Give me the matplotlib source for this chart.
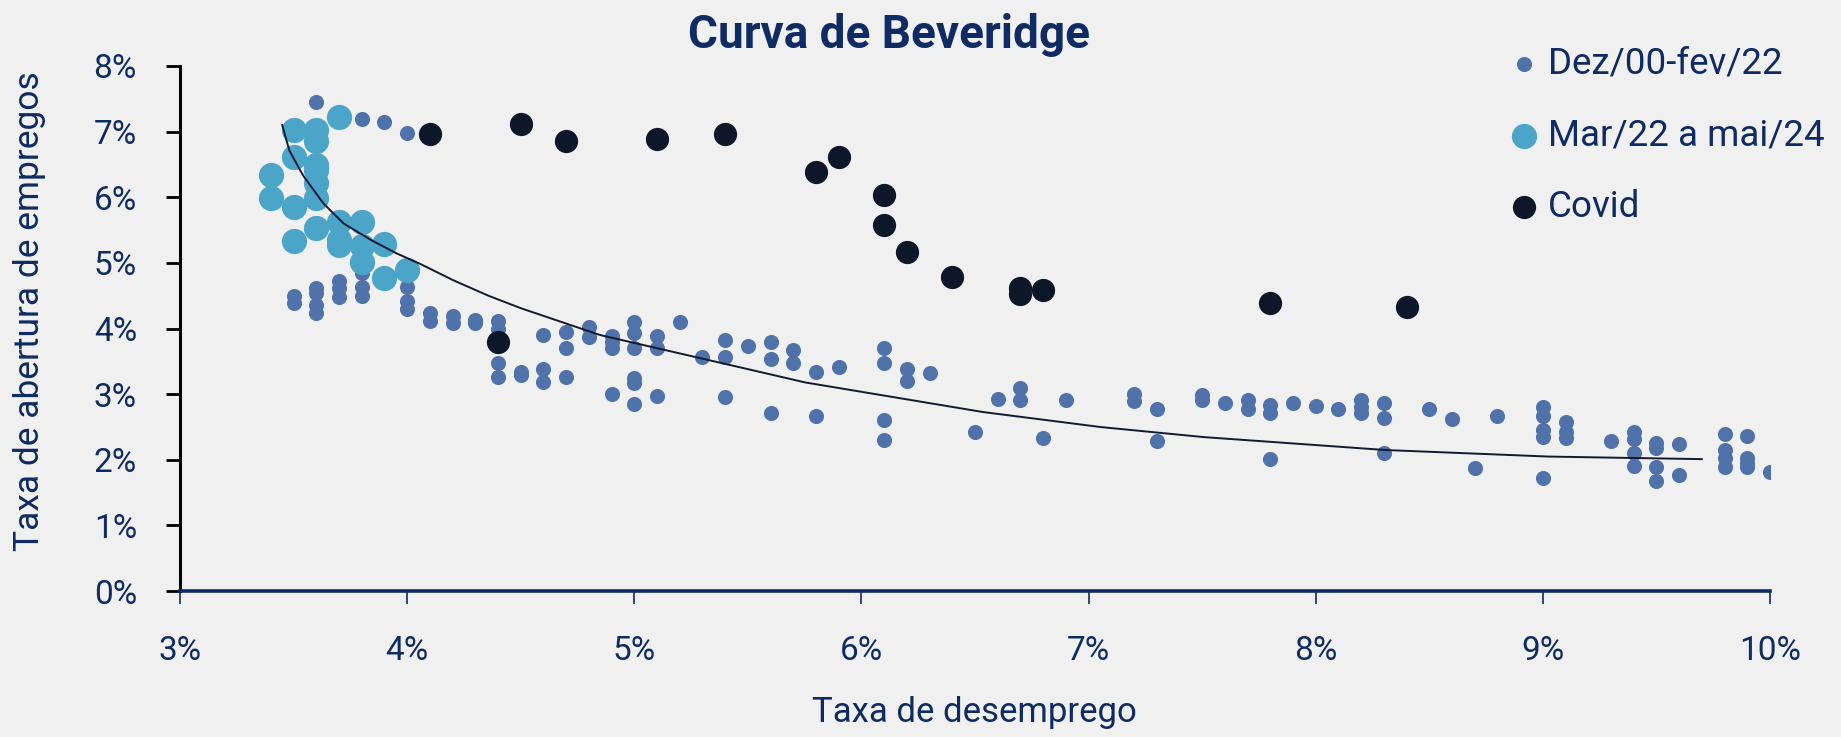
import numpy as np
import matplotlib
matplotlib.use("Agg")
import matplotlib.pyplot as plt
from matplotlib.ticker import FuncFormatter

plt.rcParams['font.family'] = ['Roboto', 'DejaVu Sans']

# ---- Data (unemployment %, job opening rate %) ----
pre_x = [3.5, 3.5,
         3.6, 3.6, 3.6, 3.6, 3.6,
         3.7, 3.7, 3.7,
         3.8, 3.8, 3.8, 3.8,
         3.9,
         4.0, 4.0, 4.0, 4.0,
         4.1, 4.1, 4.2, 4.2, 4.3, 4.3,
         4.4, 4.4, 4.4, 4.4,
         4.5, 4.5,
         4.6, 4.6, 4.6,
         4.7, 4.7, 4.7,
         4.8, 4.8,
         4.9, 4.9, 4.9, 4.9,
         5.0, 5.0, 5.0, 5.0, 5.0, 5.0,
         5.1, 5.1, 5.1,
         5.2, 5.3,
         5.4, 5.4, 5.4,
         5.5,
         5.6, 5.6, 5.6,
         5.7, 5.7,
         5.8, 5.8, 5.9,
         6.1, 6.1, 6.1, 6.1,
         6.2, 6.2, 6.3, 6.5, 6.6,
         6.7, 6.7, 6.8, 6.9,
         7.2, 7.2, 7.3, 7.3,
         7.5, 7.5, 7.6, 7.7, 7.7,
         7.8, 7.8, 7.8, 7.9, 8.0, 8.1,
         8.2, 8.2, 8.2,
         8.3, 8.3, 8.3,
         8.5, 8.6, 8.7, 8.8,
         9.0, 9.0, 9.0, 9.0, 9.0,
         9.1, 9.1, 9.1, 9.3,
         9.4, 9.4, 9.4, 9.4,
         9.5, 9.5, 9.5, 9.5,
         9.6, 9.6,
         9.8, 9.8, 9.8, 9.8,
         9.9, 9.9, 9.9, 9.9,
         10.0]
pre_y = [4.50, 4.39,
         7.45, 4.61, 4.54, 4.36, 4.23,
         4.73, 4.61, 4.48,
         7.19, 4.85, 4.64, 4.50,
         7.14,
         6.98, 4.64, 4.42, 4.30,
         4.24, 4.12, 4.19, 4.08, 4.13, 4.08,
         4.11, 4.00, 3.48, 3.26,
         3.34, 3.29,
         3.90, 3.39, 3.19,
         3.95, 3.71, 3.26,
         4.03, 3.87,
         3.88, 3.80, 3.71, 3.00,
         4.10, 3.93, 3.71, 3.24, 3.17, 2.85,
         3.88, 3.71, 2.97,
         4.10, 3.57,
         3.82, 3.57, 2.96,
         3.74,
         3.79, 3.53, 2.71,
         3.67, 3.47,
         3.34, 2.66, 3.41,
         3.70, 3.47, 2.61, 2.30,
         3.38, 3.20, 3.32, 2.42, 2.92,
         3.09, 2.91, 2.33, 2.91,
         3.01, 2.90, 2.77, 2.29,
         2.99, 2.91, 2.86, 2.91, 2.78,
         2.84, 2.71, 2.01, 2.86, 2.82, 2.77,
         2.91, 2.81, 2.71,
         2.86, 2.64, 2.11,
         2.77, 2.62, 1.88, 2.66,
         2.80, 2.67, 2.45, 2.35, 1.72,
         2.57, 2.43, 2.33, 2.29,
         2.43, 2.31, 2.11, 1.91,
         2.25, 2.18, 1.89, 1.68,
         2.24, 1.77,
         2.40, 2.15, 2.02, 1.89,
         2.37, 2.03, 1.95, 1.89,
         1.82]

post_x = [3.7, 3.5, 3.6, 3.6, 3.5, 3.6, 3.6, 3.6, 3.6, 3.4, 3.4, 3.5,
          3.6, 3.5, 3.7, 3.7, 3.7, 3.8, 3.8, 3.8, 3.9, 3.9, 4.0]
post_y = [7.23, 7.03, 7.03, 6.85, 6.62, 6.49, 6.42, 6.21, 5.99, 6.34, 5.99, 5.85,
          5.53, 5.33, 5.63, 5.35, 5.27, 5.63, 5.25, 5.02, 5.29, 4.77, 4.89]

covid_x = [4.1, 4.5, 4.7, 5.1, 5.4, 5.8, 5.9, 6.1, 6.1, 6.2, 6.4, 6.7, 6.7, 6.8, 7.8, 8.4, 4.4]
covid_y = [6.97, 7.11, 6.86, 6.89, 6.97, 6.39, 6.61, 6.03, 5.57, 5.17, 4.79, 4.61, 4.53, 4.58, 4.39, 4.33, 3.79]

# trend line
trend_x = [3.45, 3.48, 3.54, 3.63, 3.72, 3.84, 3.95, 4.06, 4.20, 4.35, 4.50,
           4.85, 5.29, 5.75, 6.53, 7.05, 7.49, 8.30, 9.01, 9.70]
trend_y = [7.10, 6.72, 6.34, 5.91, 5.60, 5.35, 5.15, 4.98, 4.74, 4.51, 4.31,
           3.90, 3.55, 3.18, 2.73, 2.50, 2.35, 2.15, 2.05, 2.01]

labels = ["Dez/00-fev/22", "Mar/22 a mai/24", "Covid"]
x_ticks = [3, 4, 5, 6, 7, 8, 9, 10]
y_ticks = [0, 1, 2, 3, 4, 5, 6, 7, 8]

# ---- Style ----
BG = "#f0f0f0"
NAVY = "#0f2b64"
C_PRE = "#4f72aa"
C_POST = "#4aa5c9"
C_COVID = "#0e1729"

fig = plt.figure(figsize=(18.41, 7.37), dpi=100, facecolor=BG)
ax = fig.add_axes([0.0978, 0.198, 0.8636, 0.7125], facecolor=BG)

h1 = ax.scatter(pre_x, pre_y, s=118, color=C_PRE, linewidths=0, zorder=2, label=labels[0])
h2 = ax.scatter(post_x, post_y, s=330, color=C_POST, linewidths=0, zorder=3, label=labels[1])
h3 = ax.scatter(covid_x, covid_y, s=280, color=C_COVID, linewidths=0, zorder=3, label=labels[2])

tx = np.linspace(trend_x[0], trend_x[-1], 400)
ty = np.interp(tx, trend_x, trend_y)
ax.plot(tx, ty, color="#111a2e", lw=1.4, zorder=4)

ax.set_xlim(3, 10)
ax.set_ylim(0, 8)
ax.set_xticks(x_ticks)
ax.set_yticks(y_ticks)
pct = FuncFormatter(lambda v, p: f"{v:.0f}%")
ax.xaxis.set_major_formatter(pct)
ax.yaxis.set_major_formatter(pct)

for s in ["top", "right"]:
    ax.spines[s].set_visible(False)
ax.spines["left"].set_color("black")
ax.spines["left"].set_linewidth(2.2)
ax.spines["bottom"].set_color(NAVY)
ax.spines["bottom"].set_linewidth(2.6)

ax.tick_params(axis="y", direction="out", length=10, width=2.0, color="black",
               labelcolor=NAVY, labelsize=24, pad=21)
ax.tick_params(axis="x", direction="out", length=9.5, width=1.2, color=NAVY,
               labelcolor=NAVY, labelsize=24, pad=22)

fig.text(0.5293, 0.033, "Taxa de desemprego", ha="center", va="center",
         fontsize=25, color=NAVY)
fig.text(0.0158, 0.578, "Taxa de abertura de empregos", ha="center", va="center",
         rotation=90, fontsize=25.5, color=NAVY)

fig.text(0.483, 0.952, "Curva de Beveridge", ha="center", va="center",
         fontsize=33, fontweight="bold", color=NAVY)

leg = fig.legend(handles=[h1, h2, h3], labels=labels, loc="upper left",
                 bbox_to_anchor=(0.8197, 0.938), frameon=False, fontsize=26.5,
                 labelcolor=NAVY, labelspacing=0.97, handletextpad=0.25,
                 borderpad=0, borderaxespad=0, handlelength=0.8, scatterpoints=1)

fig.savefig("out.png", dpi=100, facecolor=BG)
